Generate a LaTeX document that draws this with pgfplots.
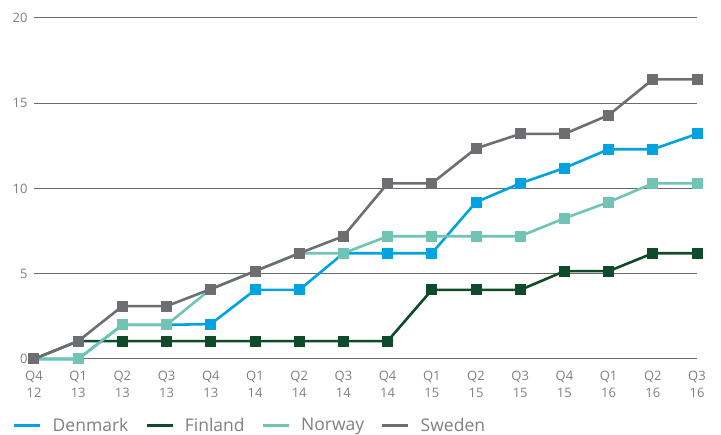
\documentclass[border=0pt]{standalone}
\usepackage{fontspec}
\setmainfont{Open Sans}
\usepackage{pgfplots}
\pgfplotsset{compat=1.18}

\definecolor{dkblue}{HTML}{00A3E0}
\definecolor{figreen}{HTML}{0F4A2B}
\definecolor{noteal}{HTML}{6FC4B4}
\definecolor{segray}{HTML}{6D6E72}
\definecolor{labgray}{HTML}{808080}
\definecolor{gridgray}{HTML}{6A6A6A}

\pgfplotstableread{
x Denmark Finland Norway Sweden
0  0     0     0     0
1  0     1.05  0     1.05
2  2.0   1.05  2.0   3.1
3  2.0   1.05  2.0   3.1
4  2.05  1.05  4.1   4.1
5  4.05  1.05  5.15  5.15
6  4.05  1.05  6.2   6.2
7  6.2   1.05  6.2   7.2
8  6.2   1.05  7.2   10.3
9  6.2   4.05  7.2   10.3
10 9.2   4.05  7.2   12.35
11 10.3  4.05  7.2   13.2
12 11.2  5.15  8.25  13.2
13 12.3  5.15  9.2   14.3
14 12.3  6.2   10.3  16.4
15 13.2  6.2   10.3  16.4
}\quarters

\begin{document}
\begin{tikzpicture}
\begin{axis}[
  scale only axis,
  width=663pt, height=341pt,
  xmin=0, xmax=15, ymin=0, ymax=20,
  clip=false,
  axis line style={draw=none},
  tick style={draw=none},
  ytick={0,5,10,15,20},
  ymajorgrids,
  grid style={color=gridgray, line width=1pt},
  xtick={0,...,15},
  xticklabels={Q4\\12,Q1\\13,Q2\\13,Q3\\13,Q4\\13,Q1\\14,Q2\\14,Q3\\14,Q4\\14,Q1\\15,Q2\\15,Q3\\15,Q4\\15,Q1\\16,Q2\\16,Q3\\16},
  xticklabel style={align=center, font=\fontsize{13}{17}\selectfont, text=labgray, yshift=-9pt},
  yticklabel style={font=\fontsize{13}{15}\selectfont, text=labgray, xshift=-3pt},
  /pgf/number format/assume math mode=true,
  legend columns=4,
  legend style={draw=none, fill=none, inner sep=0pt, at={(-0.0317,-0.195)}, anchor=west,
    font=\fontsize{17.5}{21}\selectfont, text=labgray,
    /tikz/every odd column/.append style={column sep=11pt},
    /tikz/every even column/.append style={column sep=17pt},
    nodes={inner sep=0pt, outer sep=0pt}},
  legend image code/.code={%
    \draw[#1, line width=2.5pt] (0pt,0pt) -- (26pt,0pt);},
  every axis plot/.append style={line width=2.6pt, mark=square*, mark size=5pt, line join=round},
]
\addplot[color=dkblue, mark options={fill=dkblue, line width=0pt}] table[x=x, y=Denmark] {\quarters};
\addlegendentry{Denmark}
\addplot[color=figreen, mark options={fill=figreen, line width=0pt}] table[x=x, y=Finland] {\quarters};
\addlegendentry{Finland}
\addplot[color=noteal, mark options={fill=noteal, line width=0pt}] table[x=x, y=Norway] {\quarters};
\addlegendentry{Norway}
\addplot[color=segray, mark options={fill=segray, line width=0pt}] table[x=x, y=Sweden] {\quarters};
\addlegendentry{Sweden}
\end{axis}
\path[use as bounding box] (-34pt,-76pt) rectangle (687pt,359pt);
\end{tikzpicture}
\end{document}
